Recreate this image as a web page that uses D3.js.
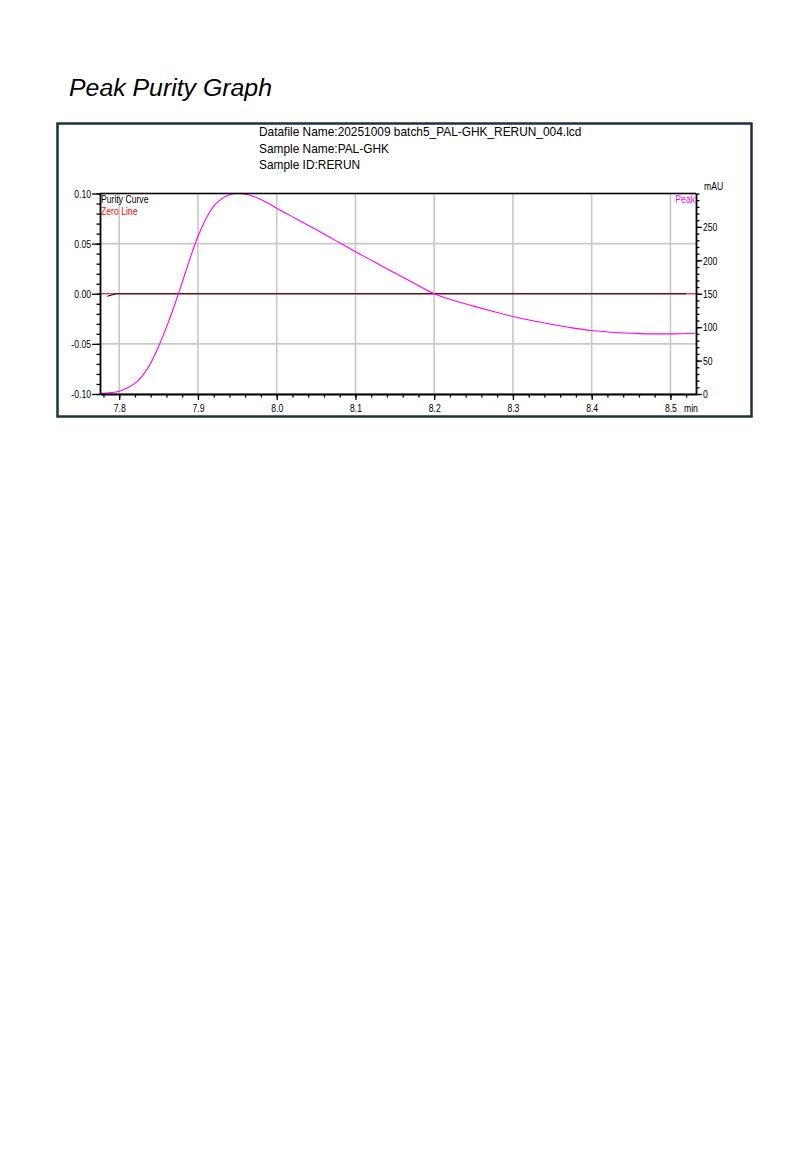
<!DOCTYPE html>
<html>
<head>
<meta charset="utf-8">
<script src="https://cdn.jsdelivr.net/npm/d3@7"></script>
<style>
  body { margin: 0; background: #fff; }
  svg { display: block; }
</style>
</head>
<body>
<svg id="chart"></svg>
<script>
// header lines
var headerLines = ["Datafile Name:20251009 batch5_PAL-GHK_RERUN_004.lcd", "Sample Name:PAL-GHK", "Sample ID:RERUN"];

// peak trace (min, mAU) - right axis
var peakTime = [7.776, 7.79, 7.80, 7.81, 7.82, 7.83, 7.84, 7.85, 7.86, 7.87, 7.88, 7.89, 7.90, 7.91, 7.92, 7.93, 7.94, 7.95, 7.96, 7.97, 7.98, 7.99, 8.00,
  8.025, 8.05, 8.075, 8.10, 8.125, 8.15, 8.175, 8.20, 8.225, 8.25, 8.275, 8.30, 8.325, 8.35, 8.375, 8.40, 8.425, 8.45, 8.475, 8.50, 8.532];
var peakMAU = [1, 2, 4, 9, 16, 28, 46, 71, 100, 132, 167, 203, 236, 262, 281, 292, 298, 300, 299, 296, 291, 285, 278,
  262, 246, 229.5, 213, 197, 181, 165.5, 150, 140, 131.5, 123.5, 116, 109.5, 104, 99, 95, 92.5, 91, 90, 90, 91];

// purity curve (min, purity) - left axis
var purityTime = [7.785, 7.796, 8.52];
var purityVal = [-0.0025, 0, 0];

// axis ticks
var xTicks = [7.8, 7.9, 8.0, 8.1, 8.2, 8.3, 8.4, 8.5];
var leftTicks = [-0.10, -0.05, 0.00, 0.05, 0.10];
var rightTicks = [0, 50, 100, 150, 200, 250];

var W = 810, H = 1170;
var svg = d3.select("#chart").attr("width", W).attr("height", H);
var sans = "'Liberation Sans', Arial, sans-serif";

// title
svg.append("text").attr("x", 69).attr("y", 96)
  .style("font-family", sans).style("font-style", "italic")
  .style("font-size", "23.5px").attr("fill", "#000")
  .attr("textLength", 203).attr("lengthAdjust", "spacingAndGlyphs")
  .text("Peak Purity Graph");

// outer frame
svg.append("rect").attr("x", 57.5).attr("y", 123.5).attr("width", 694).attr("height", 293)
  .attr("fill", "none").attr("stroke", "#1d3344").attr("stroke-width", 2.5);

// header
svg.append("g").selectAll("text").data(headerLines).enter().append("text")
  .attr("x", 259).attr("y", function(d, i) { return 136 + i * 16.5; })
  .style("font-family", sans).style("font-size", "11.9px")
  .attr("fill", "#000").text(function(d) { return d; });

var margin = { left: 100, right: 696, top: 193.5, bottom: 394 };
var x = d3.scaleLinear().domain([7.7756, 8.5325]).range([margin.left, margin.right]);
var yL = d3.scaleLinear().domain([-0.10, 0.10]).range([margin.bottom, margin.top]);
var yR = d3.scaleLinear().domain([0, 300]).range([margin.bottom, margin.top]);

var plot = svg.append("g");

// grid
plot.selectAll("line.vgrid").data(xTicks).enter().append("line").attr("class", "vgrid")
  .attr("x1", function(d) { return x(d); }).attr("x2", function(d) { return x(d); })
  .attr("y1", margin.top).attr("y2", margin.bottom)
  .attr("stroke", "#c8c8c8").attr("stroke-width", 1.6);
plot.selectAll("line.hgrid").data(leftTicks).enter().append("line").attr("class", "hgrid")
  .attr("y1", function(d) { return yL(d); }).attr("y2", function(d) { return yL(d); })
  .attr("x1", margin.left).attr("x2", margin.right)
  .attr("stroke", "#c8c8c8").attr("stroke-width", 1.6);

// zero line
plot.append("line").attr("x1", margin.left).attr("x2", margin.right)
  .attr("y1", yL(0)).attr("y2", yL(0)).attr("stroke", "#ff1010").attr("stroke-width", 1.2);

// purity curve
var purityData = purityTime.map(function(t, i) { return [t, purityVal[i]]; });
plot.append("path").datum(purityData)
  .attr("d", d3.line().x(function(d) { return x(d[0]); }).y(function(d) { return yL(d[1]); }))
  .attr("fill", "none").attr("stroke", "#2a0505").attr("stroke-width", 1.2);

// peak
var peakData = peakTime.map(function(t, i) { return [t, peakMAU[i]]; });
plot.append("path").datum(peakData)
  .attr("d", d3.line().curve(d3.curveMonotoneX).x(function(d) { return x(d[0]); }).y(function(d) { return yR(d[1]); }))
  .attr("fill", "none").attr("stroke", "#ff00ff").attr("stroke-width", 1.1);

// plot border top
plot.append("line").attr("x1", margin.left).attr("x2", margin.right).attr("y1", margin.top).attr("y2", margin.top)
  .attr("stroke", "#000").attr("stroke-width", 1.3);

var tickStyle = function(sel) {
  sel.selectAll("text").style("font-family", sans).style("font-size", "11.5px").attr("fill", "#000").classed("narrow", true);
  sel.selectAll("line").attr("stroke", "#000").attr("stroke-width", 1.3);
  sel.select(".domain").attr("stroke", "#000").attr("stroke-width", 1.8);
};
var hyphen = function(f) { return function(d) { return f(d).replace("\u2212", "-"); }; };

// left axis
var leftMinor = d3.range(-0.10, 0.1001, 0.01);
svg.append("g").attr("transform", "translate(" + margin.left + ",0)")
  .call(d3.axisLeft(yL).tickValues(leftMinor).tickSize(3.5).tickFormat(""))
  .call(tickStyle).select(".domain").remove();
svg.append("g").attr("transform", "translate(" + margin.left + ",0)")
  .call(d3.axisLeft(yL).tickValues(leftTicks).tickSize(8).tickSizeOuter(0).tickPadding(1).tickFormat(hyphen(d3.format(".2f"))))
  .call(tickStyle);

// right axis
var rightMinor = d3.range(0, 301, 10);
svg.append("g").attr("transform", "translate(" + margin.right + ",0)")
  .call(d3.axisRight(yR).tickValues(rightMinor).tickSize(3.5).tickFormat(""))
  .call(tickStyle).select(".domain").remove();
svg.append("g").attr("transform", "translate(" + margin.right + ",0)")
  .call(d3.axisRight(yR).tickValues(rightTicks).tickSize(6).tickSizeOuter(0).tickPadding(1))
  .call(tickStyle);

// bottom axis
var xMinor = d3.range(7.78, 8.53, 0.02);
svg.append("g").attr("transform", "translate(0," + margin.bottom + ")")
  .call(d3.axisBottom(x).tickValues(xMinor).tickSize(3.5).tickFormat(""))
  .call(tickStyle).select(".domain").remove();
svg.append("g").attr("transform", "translate(0," + margin.bottom + ")")
  .call(d3.axisBottom(x).tickValues(xTicks).tickSize(6).tickSizeOuter(0).tickPadding(3.5).tickFormat(d3.format(".1f")))
  .call(tickStyle);

// unit + legend labels
var label = function(tx, ty, txt, col, anchor) {
  return svg.append("text").attr("x", tx).attr("y", ty).attr("text-anchor", anchor || "start")
    .style("font-family", sans).style("font-size", "11.5px").attr("fill", col).attr("class", "narrow").text(txt);
};
label(margin.right + 8, 190, "mAU", "#000");
label(684, 411.5, "min", "#000");
label(101, 203, "Purity Curve", "#000");
label(101, 215, "Zero Line", "#ff0000");
label(margin.right - 1, 203, "Peak", "#ff00ff", "end");

// condense the small labels (narrow face like the original)
svg.selectAll("text.narrow").each(function() {
  var len = this.getComputedTextLength();
  if (len > 0) d3.select(this).attr("textLength", len * 0.75).attr("lengthAdjust", "spacingAndGlyphs");
});
</script>
</body>
</html>
